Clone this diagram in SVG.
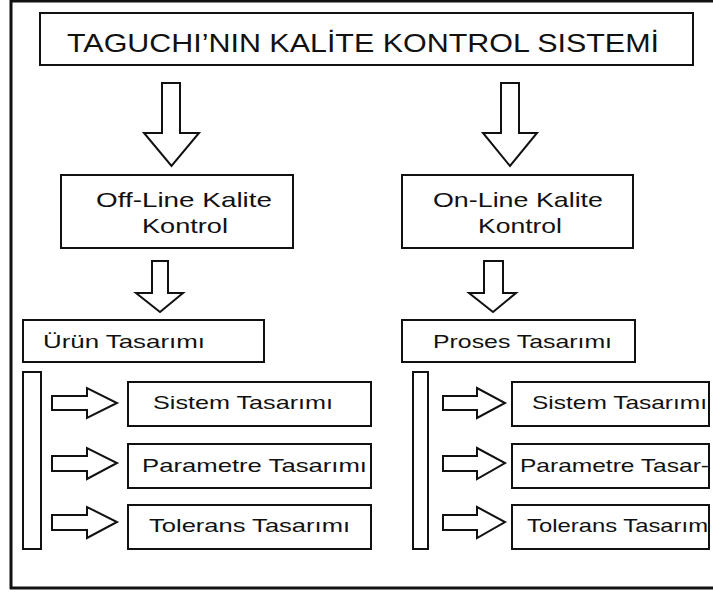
<svg xmlns="http://www.w3.org/2000/svg" width="713" height="594" viewBox="0 0 713 594">
<style>
.box{fill:#fff;stroke:#111;stroke-width:2}
.arr{fill:#fff;stroke:#111;stroke-width:2;stroke-linejoin:miter}
.t{font-family:"Liberation Sans",Arial,sans-serif;fill:#111;font-size:19px}
.big{font-size:21px}
.title{font-size:26px}
</style>
<rect width="713" height="594" fill="#fff"/>
<g id="frame">
<path d="M11 1 H713 M11 0 V589 M10 588 H713" stroke="#111" stroke-width="3" fill="none"/>
</g>
<g id="title">
<rect class="box" x="40" y="13" width="653" height="52" stroke-width="2.5"/>
<text class="t title" x="67" y="52" textLength="592" lengthAdjust="spacingAndGlyphs">TAGUCHI’NIN KALİTE KONTROL SISTEMİ</text>
</g>
<g id="connectors">
<path class="arr" d="M162 83 H180 V133 H199 L171.5 166 L144 133 H162 Z"/>
<path class="arr" d="M501 83 H519 V133 H537 L510 166 L483 133 H501 Z"/>
<path class="arr" d="M152 261 H168 V293 H183 L160 312 L136 293 H152 Z"/>
<path class="arr" d="M484 261 H503 V293 H516 L493 312 L469 293 H484 Z"/>
<path class="arr" d="M52 396 H87 V388 L117 403 L87 418 V410 H52 Z"/>
<path class="arr" d="M52 456 H87 V448 L117 463 L87 479 V471 H52 Z"/>
<path class="arr" d="M52 515 H87 V507 L117 522 L87 538 V530 H52 Z"/>
<path class="arr" d="M443 396 H477 V388 L505 403 L477 418 V410 H443 Z"/>
<path class="arr" d="M443 456 H477 V448 L505 463 L477 479 V471 H443 Z"/>
<path class="arr" d="M443 515 H477 V507 L505 522 L477 538 V530 H443 Z"/>
</g>
<g id="offline">
<rect class="box" x="61" y="175" width="232" height="73"/>
<text class="t big" x="96" y="207" textLength="176" lengthAdjust="spacingAndGlyphs">Off-Line Kalite</text>
<text class="t big" x="142" y="233" textLength="86" lengthAdjust="spacingAndGlyphs">Kontrol</text>
</g>
<g id="online">
<rect class="box" x="402" y="175" width="231" height="73"/>
<text class="t big" x="433" y="207" textLength="170" lengthAdjust="spacingAndGlyphs">On-Line Kalite</text>
<text class="t big" x="478" y="233" textLength="84" lengthAdjust="spacingAndGlyphs">Kontrol</text>
</g>
<g id="urun">
<rect class="box" x="23" y="320" width="241" height="42"/>
<text class="t" x="43" y="348" textLength="162" lengthAdjust="spacingAndGlyphs">Ürün Tasarımı</text>
</g>
<g id="proses">
<rect class="box" x="402" y="320" width="233" height="42"/>
<text class="t" x="433" y="348" textLength="179" lengthAdjust="spacingAndGlyphs">Proses Tasarımı</text>
</g>
<g id="bar-left"><rect class="box" x="23" y="372" width="18" height="177"/></g>
<g id="bar-right"><rect class="box" x="413" y="372" width="15" height="177"/></g>
<g id="sistem-left">
<rect class="box" x="128" y="382" width="243" height="44"/>
<text class="t" x="153" y="409" textLength="180" lengthAdjust="spacingAndGlyphs">Sistem Tasarımı</text>
</g>
<g id="parametre-left">
<rect class="box" x="128" y="444" width="243" height="44"/>
<text class="t" x="142" y="472" textLength="225" lengthAdjust="spacingAndGlyphs">Parametre Tasarımı</text>
</g>
<g id="tolerans-left">
<rect class="box" x="128" y="505" width="243" height="44"/>
<text class="t" x="149" y="532" textLength="201" lengthAdjust="spacingAndGlyphs">Tolerans Tasarımı</text>
</g>
<g id="sistem-right">
<rect class="box" x="512" y="382" width="197" height="44"/>
<text class="t" x="532" y="409" textLength="175" lengthAdjust="spacingAndGlyphs">Sistem Tasarımı</text>
</g>
<g id="parametre-right">
<rect class="box" x="512" y="444" width="197" height="44"/>
<text class="t" x="520" y="472" textLength="189" lengthAdjust="spacingAndGlyphs">Parametre Tasar-</text>
</g>
<g id="tolerans-right">
<rect class="box" x="512" y="505" width="197" height="44"/>
<text class="t" x="527" y="532" textLength="181" lengthAdjust="spacingAndGlyphs">Tolerans Tasarım</text>
</g>
</svg>
